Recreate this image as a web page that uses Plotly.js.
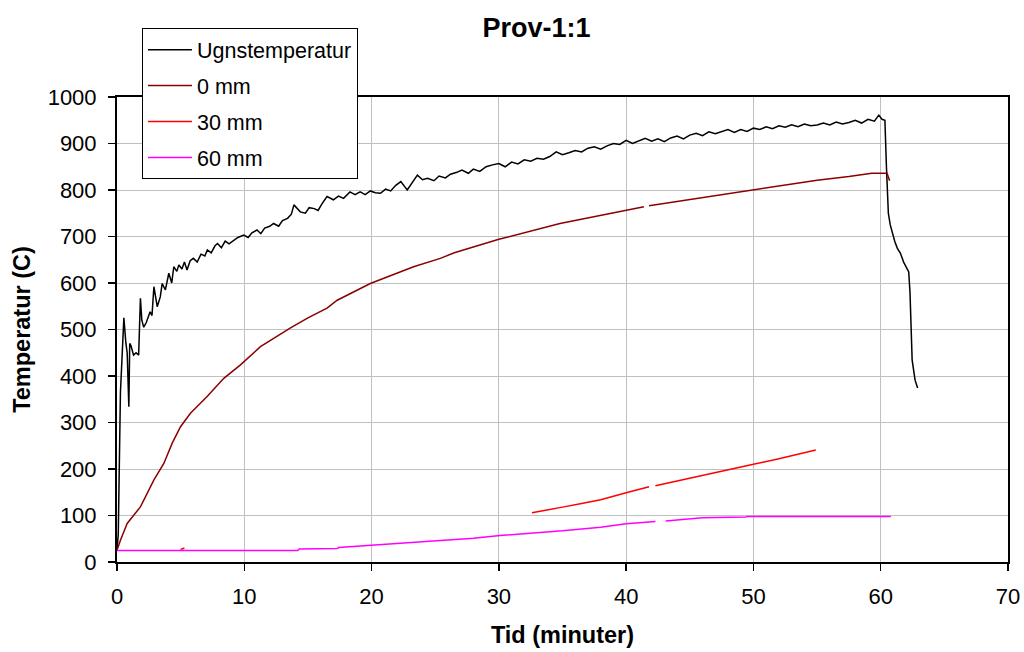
<!DOCTYPE html>
<html>
<head>
<meta charset="utf-8">
<script src="https://cdn.plot.ly/plotly-3.0.1.min.js"></script>
<style>html,body{margin:0;padding:0;background:#fff;}#chart{width:1024px;height:652px;}</style>
</head>
<body>
<div id="chart"></div>
<script>
var seriesNames = ["Ugnstemperatur", "0 mm", "30 mm", "60 mm"];

var ugnTime = [0,0.1,0.27,0.54,0.7,0.8,0.93,1.0,1.1,1.3,1.5,1.7,1.84,1.95,2.1,2.3,2.6,2.75,2.9,3.16,3.4,3.55,3.8,4.07,4.3,4.46,4.7,4.86,5.1,5.3,5.5,5.75,6.0,6.3,6.6,6.9,7.1,7.4,7.7,7.9,8.2,8.5,8.8,9.2,9.5,9.96,10.3,10.6,11.0,11.3,11.6,12.0,12.3,12.7,13.0,13.4,13.7,13.9,14.2,14.4,14.8,15.1,15.5,15.8,16.1,16.5,17.0,17.4,17.8,18.3,18.7,19.1,19.5,19.9,20.3,20.7,21.1,21.5,21.9,22.3,22.8,23.2,23.6,24.0,24.4,24.9,25.3,25.8,26.2,26.7,27.1,27.6,28.0,28.5,29.0,29.5,30.0,30.5,31.0,31.5,32.0,32.5,33.0,33.5,34.0,34.5,35.0,35.5,36.0,36.5,37.0,37.5,38.0,38.5,39.0,39.5,40.0,40.5,41.0,41.5,42.0,42.5,43.0,43.5,44.0,44.5,45.0,45.5,46.0,46.5,47.0,47.5,48.0,48.5,49.0,49.5,50.0,50.5,51.0,51.5,52.0,52.5,53.0,53.5,54.0,54.5,55.0,55.5,56.0,56.5,57.0,57.5,58.0,58.5,59.0,59.5,59.85,60.1,60.33,60.45,60.6,60.75,60.9,61.1,61.3,61.55,61.8,62.0,62.2,62.3,62.47,62.6,62.7,62.9];
var ugnTemp = [25,60,365,525,470,450,334,470,465,445,450,445,567,520,505,515,538,530,592,549,570,599,585,621,600,635,625,639,630,645,628,648,653,645,662,658,671,665,680,685,676,690,684,692,698,703,698,708,714,706,718,722,728,722,734,739,748,768,758,753,750,762,760,756,770,786,779,787,782,796,790,796,790,798,794,793,802,798,810,818,800,815,832,822,825,820,830,826,834,838,843,836,845,840,850,854,857,850,860,856,865,862,868,866,872,882,876,880,885,882,890,893,888,895,900,898,907,900,905,911,905,910,904,912,916,910,918,922,917,925,921,926,930,924,930,926,933,930,936,932,938,935,940,936,942,938,940,944,940,946,942,945,950,944,952,948,961,952,950,850,750,725,707,690,675,664,645,635,624,580,434,410,391,374];

var mm0Time = [0,0.27,0.8,1.85,2.89,3.68,4.33,4.99,5.77,7.08,8.39,9.7,11.27,13.6,15.0,16.5,17.3,19.9,23.3,25.4,26.5,30.0,34.8,40.0,41.4,41.6,41.8,45.1,47.7,50.0,52.5,55.0,57.5,59.3,60.5,60.6,60.7];
var mm0Temp = [25,47,83,119,176,212,255,291,320,356,395,424,463,503,525,546,563,599,635,653,665,694,728,757,764,null,766,780,791,800,810,821,829,836,836,825,820];

var mm30Time = [5.0,5.3,5.4,32.6,33.5,35,36.5,38,40,41.8,42.0,42.3,44,46,48,50,52,54,54.9];
var mm30Temp = [27,30,null,106,110,118,126,134,149,162,null,164,174,185,197,210,222,235,241];

var mm60Time = [0,14.2,14.3,17.3,17.4,20,22,25,28,30.1,32,35,38,40,42.3,42.6,43.1,45,46,49.4,49.5,60.8];
var mm60Temp = [25,25,28,29,31,36,40,45,51,57,61,67,75,82,87,null,88,92,95,97,98,98];

var xTicks = [0,10,20,30,40,50,60,70];
var yTicks = [0,100,200,300,400,500,600,700,800,900,1000];

var FONT = "Liberation Sans, Arial, sans-serif";

var traces = [
  {x: ugnTime, y: ugnTemp, name: seriesNames[0], legendgroup: "a", mode: "lines", line: {color: "#000000", width: 1.5}},
  {x: mm0Time, y: mm0Temp, name: seriesNames[1], legendgroup: "b", mode: "lines", line: {color: "#8B0000", width: 1.5}, connectgaps: false},
  {x: mm30Time, y: mm30Temp, name: seriesNames[2], legendgroup: "c", mode: "lines", line: {color: "#FF0000", width: 1.5}, connectgaps: false},
  {x: mm60Time, y: mm60Temp, name: seriesNames[3], legendgroup: "d", mode: "lines", line: {color: "#FF00FF", width: 1.5}, connectgaps: false}
];

var layout = {
  width: 1024, height: 652,
  margin: {l: 117, r: 16, t: 97, b: 90},
  paper_bgcolor: "#ffffff", plot_bgcolor: "#ffffff",
  font: {family: FONT, color: "#000000", size: 20},
  title: {text: "<b>Prov-1:1</b>", x: 0.524, xanchor: "center", y: 0.957, yanchor: "middle", font: {family: FONT, size: 27, color: "#000"}},
  showlegend: true,
  legend: {
    x: 0.028, y: 1.148, xanchor: "left", yanchor: "top",
    bgcolor: "#ffffff", bordercolor: "#000000", borderwidth: 1,
    font: {family: FONT, size: 21.5, color: "#000"},
    traceorder: "grouped", tracegroupgap: 5, itemwidth: 44
  },
  xaxis: {
    range: [0, 70], tickvals: xTicks, ticktext: xTicks.map(String),
    showgrid: true, gridcolor: "#c0c0c0", gridwidth: 1,
    showline: true, linecolor: "#000000", linewidth: 2, mirror: true,
    ticks: "outside", ticklen: 7, tickcolor: "#000", tickwidth: 1.5,
    ticklabelstandoff: 7,
    zeroline: false,
    tickfont: {family: FONT, size: 22, color: "#000"},
    title: {text: "<b>Tid (minuter)</b>", font: {family: FONT, size: 23.5, color: "#000"}, standoff: 18}
  },
  yaxis: {
    range: [0, 1000], tickvals: yTicks, ticktext: yTicks.map(String),
    showgrid: true, gridcolor: "#c0c0c0", gridwidth: 1,
    showline: true, linecolor: "#000000", linewidth: 2, mirror: true,
    ticks: "outside", ticklen: 7, tickcolor: "#000", tickwidth: 1.5,
    ticklabelstandoff: 7,
    zeroline: false,
    tickfont: {family: FONT, size: 22, color: "#000"},
    title: {text: "<b>Temperatur (C)</b>", font: {family: FONT, size: 23.5, color: "#000"}, standoff: 10}
  }
};

Plotly.newPlot("chart", traces, layout, {displayModeBar: false, staticPlot: true});
</script>
</body>
</html>
